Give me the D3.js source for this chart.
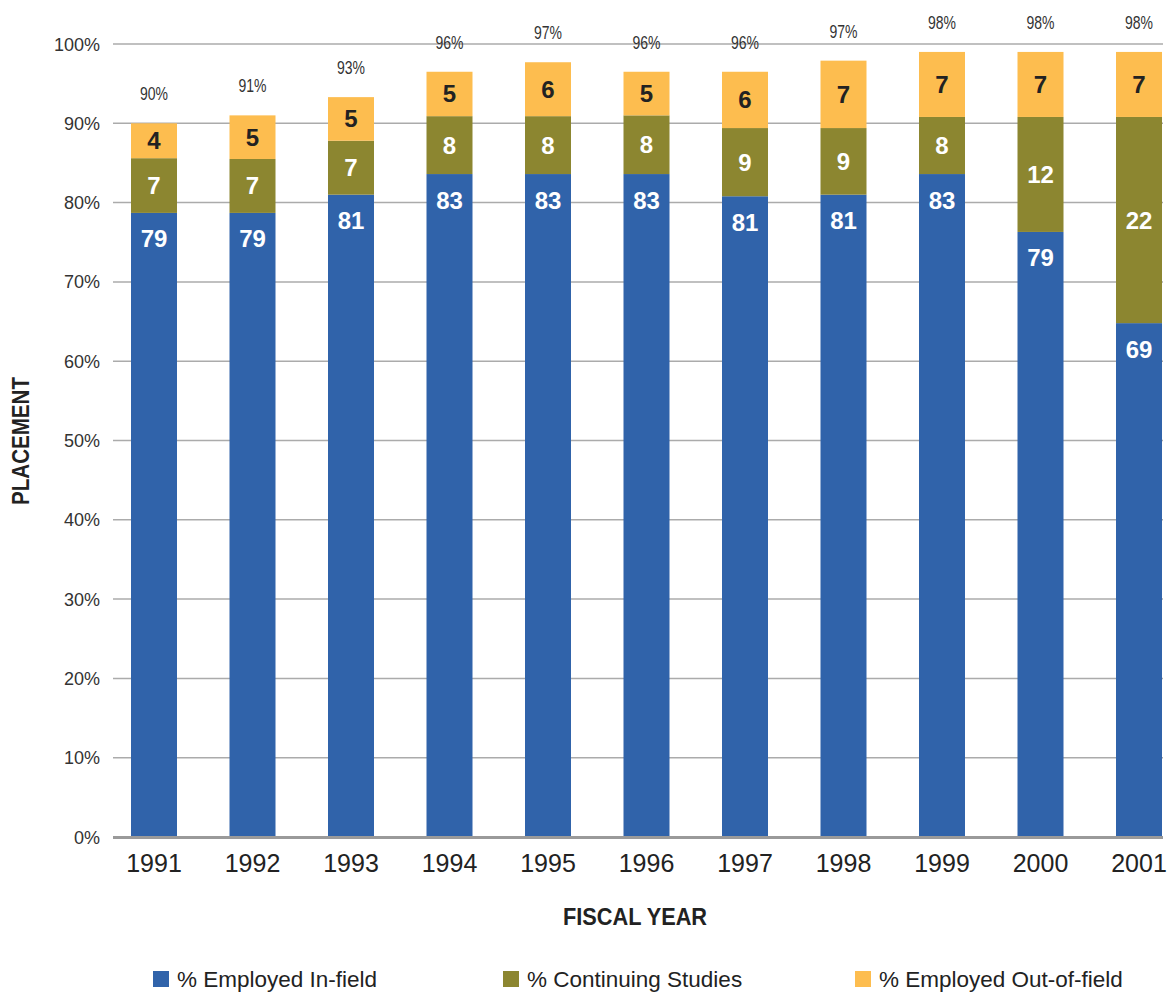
<!DOCTYPE html>
<html>
<head>
<meta charset="utf-8">
<script src="https://cdn.jsdelivr.net/npm/d3@7"></script>
<style>
  body { margin: 0; background: #fff; }
  svg { display: block; font-family: "Liberation Sans", Arial, sans-serif; }
</style>
</head>
<body>
<div id="chart"></div>
<script>
// data (segment heights in %, and the printed labels)
const years = ["1991", "1992", "1993", "1994", "1995", "1996", "1997", "1998", "1999", "2000", "2001"];
const inField    = [78.7, 78.7, 81.0, 83.6, 83.6, 83.6, 80.8, 81.0, 83.6, 76.3, 64.8];
const continuing = [6.9, 6.8, 6.8, 7.3, 7.3, 7.4, 8.6, 8.4, 7.2, 14.5, 26.0];
const outField   = [4.4, 5.5, 5.5, 5.6, 6.8, 5.5, 7.1, 8.5, 8.2, 8.2, 8.2];
const inFieldLabels    = [79, 79, 81, 83, 83, 83, 81, 81, 83, 79, 69];
const continuingLabels = [7, 7, 7, 8, 8, 8, 9, 9, 8, 12, 22];
const outFieldLabels   = [4, 5, 5, 5, 6, 5, 6, 7, 7, 7, 7];
const totalLabels      = [90, 91, 93, 96, 97, 96, 96, 97, 98, 98, 98];
const yTicks = [0, 10, 20, 30, 40, 50, 60, 70, 80, 90, 100];

const seriesNames = ["% Employed In-field", "% Continuing Studies", "% Employed Out-of-field"];
const colors = ["#3063aa", "#8c8630", "#fdbd4f"];

const width = 1176, height = 996;
const svg = d3.select("#chart").append("svg")
    .attr("width", width)
    .attr("height", height);

const x = d3.scalePoint().domain(years).range([154, 1139]);
const barW = 46;
const y = d3.scaleLinear().domain([0, 100]).range([837, 44]);

// gridlines
svg.append("g")
    .selectAll("line")
    .data(yTicks.filter(d => d > 0))
    .enter().append("line")
    .attr("x1", 113).attr("x2", 1163)
    .attr("y1", d => y(d)).attr("y2", d => y(d))
    .style("stroke", "#ababab")
    .style("stroke-width", 1.5);

// y tick labels
svg.append("g")
    .selectAll("text")
    .data(yTicks)
    .enter().append("text")
    .attr("x", 100)
    .attr("y", d => y(d) + 6.5)
    .attr("text-anchor", "end")
    .style("font-size", "18px")
    .style("fill", "#333")
    .text(d => d + "%");

// stack the three series
const rows = years.map((yr, i) => ({
    year: yr, a: inField[i], b: continuing[i], c: outField[i],
    la: inFieldLabels[i], lb: continuingLabels[i], lc: outFieldLabels[i], total: totalLabels[i]
}));
const stack = d3.stack().keys(["a", "b", "c"]);
const series = stack(rows);

const groups = svg.append("g")
    .selectAll("g")
    .data(series)
    .enter().append("g")
    .style("fill", (d, i) => colors[i]);

groups.selectAll("rect")
    .data(d => d)
    .enter().append("rect")
    .attr("x", d => x(d.data.year) - barW / 2)
    .attr("width", barW)
    .attr("y", d => y(d[1]))
    .attr("height", d => y(d[0]) - y(d[1]));

// zero axis line
svg.append("line")
    .attr("x1", 113).attr("x2", 1163)
    .attr("y1", y(0) + 0.5).attr("y2", y(0) + 0.5)
    .style("stroke", "#9a9a9a")
    .style("stroke-width", 3);

// segment labels
const labelKeys = ["la", "lb", "lc"];
const labelColors = ["#fff", "#fff", "#222"];
series.forEach((s, k) => {
    svg.append("g")
        .selectAll("text")
        .data(s)
        .enter().append("text")
        .attr("x", d => x(d.data.year))
        .attr("y", d => {
            if (k === 0) return y(d[1]) + 26 + 8.5;   // in-field label sits near the top of its bar
            return (y(d[0]) + y(d[1])) / 2 + 8.5;
        })
        .attr("text-anchor", "middle")
        .style("font-size", "24px")
        .style("font-weight", "bold")
        .style("fill", labelColors[k])
        .text(d => d.data[labelKeys[k]]);
});

// totals above bars (condensed look)
svg.append("g")
    .selectAll("text")
    .data(series[2])
    .enter().append("text")
    .attr("x", d => x(d.data.year))
    .attr("y", d => y(d[1]) - 23)
    .attr("text-anchor", "middle")
    .attr("textLength", 28)
    .attr("lengthAdjust", "spacingAndGlyphs")
    .style("font-size", "19px")
    .style("fill", "#333")
    .text(d => d.data.total + "%");

// x tick labels
svg.append("g")
    .selectAll("text")
    .data(years)
    .enter().append("text")
    .attr("x", d => x(d))
    .attr("y", 872)
    .attr("text-anchor", "middle")
    .style("font-size", "25px")
    .style("fill", "#222")
    .text(d => d);

// axis titles
svg.append("text")
    .attr("x", 635)
    .attr("y", 925)
    .attr("text-anchor", "middle")
    .attr("textLength", 144)
    .attr("lengthAdjust", "spacingAndGlyphs")
    .style("font-size", "24px")
    .style("font-weight", "bold")
    .style("fill", "#222")
    .text("FISCAL YEAR");

svg.append("text")
    .attr("transform", "translate(29,441) rotate(-90)")
    .attr("text-anchor", "middle")
    .attr("textLength", 128)
    .attr("lengthAdjust", "spacingAndGlyphs")
    .style("font-size", "24px")
    .style("font-weight", "bold")
    .style("fill", "#222")
    .text("PLACEMENT");

// legend
const legendX = [153, 503, 855];
const legend = svg.append("g")
    .selectAll("g")
    .data(seriesNames)
    .enter().append("g")
    .attr("transform", (d, i) => `translate(${legendX[i]},971)`);

legend.append("rect")
    .attr("width", 16)
    .attr("height", 16)
    .style("fill", (d, i) => colors[i]);

legend.append("text")
    .attr("x", 24)
    .attr("y", 16)
    .style("font-size", "22.5px")
    .style("fill", "#222")
    .text(d => d);
</script>
</body>
</html>
